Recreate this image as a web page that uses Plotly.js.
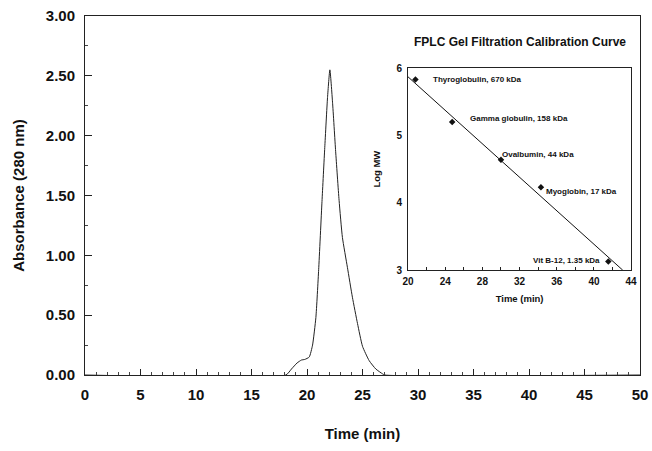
<!DOCTYPE html>
<html>
<head>
<meta charset="utf-8">
<script src="https://cdn.plot.ly/plotly-3.0.1.min.js"></script>
<style>html,body{margin:0;padding:0;background:#fff;}#chart{width:652px;height:451px;}</style>
</head>
<body>
<div id="chart"></div>
<script>
// Main chromatogram
const elutionTime = [0, 18.1, 18.6, 19.1, 19.5, 19.8, 20.2, 20.5, 20.8, 21.05, 21.35, 21.6, 21.85, 22.06, 22.3, 22.58, 22.89, 23.19, 23.64, 24.09, 24.55, 25.0, 25.6, 26.2, 26.8, 27.0, 50];
const absorbance  = [0, 0, 0.05, 0.10, 0.125, 0.13, 0.15, 0.25, 0.48, 0.88, 1.45, 1.90, 2.32, 2.55, 2.28, 1.87, 1.46, 1.15, 0.90, 0.65, 0.43, 0.24, 0.12, 0.05, 0.01, 0, 0];

// Inset calibration standards
const standardNames = ["Thyroglobulin, 670 kDa", "Gamma globulin, 158 kDa", "Ovalbumin, 44 kDa", "Myoglobin, 17 kDa", "Vit B-12, 1.35 kDa"];
const standardTime  = [20.8, 24.75, 30.0, 34.3, 41.55];
const standardLogMW = [5.83, 5.20, 4.64, 4.23, 3.13];
const fitTime  = [20, 43.1];
const fitLogMW = [5.87, 3.0];
// label anchor positions (data units) for each standard
const labelTime  = [22.5, 26.4, 29.9, 34.6, 40.9];
const labelLogMW = [5.83, 5.25, 4.72, 4.17, 3.15];
const labelSide  = ["left", "left", "left", "left", "right"];

const F = "Liberation Sans, Arial, sans-serif";

const traces = [
  {x: elutionTime, y: absorbance, type: "scatter", mode: "lines",
   line: {color: "#222", width: 1, shape: "spline", smoothing: 0.5}, xaxis: "x", yaxis: "y", hoverinfo: "skip"},
  {x: fitTime, y: fitLogMW, type: "scatter", mode: "lines",
   line: {color: "#111", width: 1}, xaxis: "x2", yaxis: "y2"},
  {x: standardTime, y: standardLogMW, type: "scatter", mode: "markers",
   marker: {color: "#111", size: 5, symbol: "diamond"}, xaxis: "x2", yaxis: "y2"}
];

const annotations = standardNames.map((n, i) => ({
  x: labelTime[i], y: labelLogMW[i], xref: "x2", yref: "y2",
  text: n, showarrow: false, xanchor: labelSide[i], yanchor: "middle",
  font: {family: F, size: 8, color: "#111", weight: "bold"}
}));
annotations.push({
  x: 0.5, y: 1, xref: "x2 domain", yref: "y2 domain", yshift: 26,
  text: "FPLC Gel Filtration Calibration Curve", showarrow: false,
  xanchor: "center", yanchor: "middle",
  font: {family: F, size: 12, color: "#111", weight: "bold"}
});

const layout = {
  width: 652, height: 451,
  margin: {l: 85, r: 12, t: 16, b: 76},
  paper_bgcolor: "#fff", plot_bgcolor: "#fff",
  showlegend: false,
  font: {family: F, color: "#111"},
  xaxis: {
    range: [0, 50], dtick: 5, tick0: 0,
    showline: true, linecolor: "#222", linewidth: 1, mirror: true,
    showgrid: false, zeroline: false,
    ticks: "inside", ticklen: 6, tickcolor: "#222",
    minor: {dtick: 1, ticks: "inside", ticklen: 3, tickcolor: "#444", showgrid: false},
    tickfont: {family: F, size: 15, weight: "bold", color: "#111"},
    ticklabelstandoff: 6,
    title: {text: "Time (min)", font: {family: F, size: 15, weight: "bold", color: "#111"}, standoff: 26}
  },
  yaxis: {
    range: [0, 3], dtick: 0.5, tick0: 0, tickformat: ".2f",
    showline: true, linecolor: "#222", linewidth: 1, mirror: true,
    showgrid: false, zeroline: false,
    ticks: "inside", ticklen: 7, tickcolor: "#222",
    minor: {dtick: 0.25, ticks: "inside", ticklen: 3, tickcolor: "#444", showgrid: false},
    tickfont: {family: F, size: 15, weight: "bold", color: "#111"},
    ticklabelstandoff: 6,
    title: {text: "Absorbance (280 nm)", font: {family: F, size: 15, weight: "bold", color: "#111"}, standoff: 17}
  },
  xaxis2: {
    domain: [0.582, 0.984], anchor: "y2",
    range: [20, 44], dtick: 4, tick0: 20,
    showline: true, linecolor: "#222", linewidth: 1, mirror: true,
    showgrid: false, zeroline: false,
    ticks: "inside", ticklen: 3, tickcolor: "#222",
    minor: {dtick: 2, ticks: "inside", ticklen: 3, tickcolor: "#222", showgrid: false},
    tickfont: {family: F, size: 10, weight: "bold", color: "#111"},
    ticklabelstandoff: 2,
    title: {text: "Time (min)", font: {family: F, size: 9.5, weight: "bold", color: "#111"}, standoff: 9}
  },
  yaxis2: {
    domain: [0.292, 0.855], anchor: "x2",
    range: [3, 6], dtick: 1, tick0: 3,
    showline: true, linecolor: "#222", linewidth: 1, mirror: true,
    showgrid: false, zeroline: false,
    ticks: "",
    tickfont: {family: F, size: 10, weight: "bold", color: "#111"},
    ticklabelstandoff: 3,
    title: {text: "Log MW", font: {family: F, size: 9.5, weight: "bold", color: "#111"}, standoff: 14}
  },
  annotations: annotations
};

Plotly.newPlot("chart", traces, layout, {displayModeBar: false, staticPlot: true});
</script>
</body>
</html>
